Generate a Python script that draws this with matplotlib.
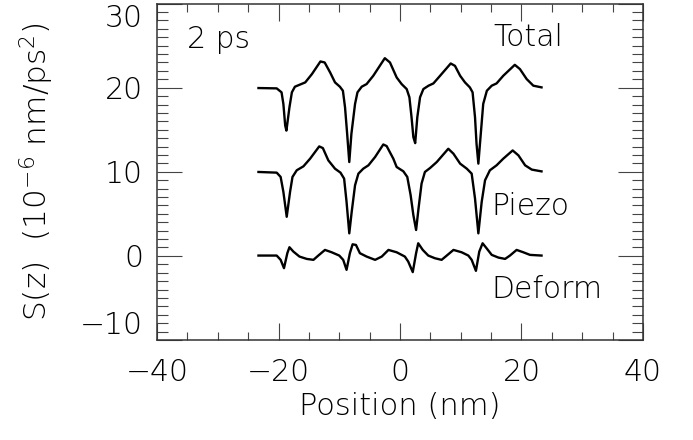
import matplotlib
matplotlib.use('Agg')
import matplotlib.pyplot as plt
from matplotlib.ticker import MultipleLocator

# values (nm, 10^-6 nm/ps^2)
total_x = [-23.3, -20.3, -19.5, -19.2, -18.9, -18.7, -18.2, -17.8, -17.3, -16.5, -15.6, -14.5,
           -13.1, -12.4, -11.5, -10.7, -9.9, -9.4, -9.05, -8.7, -8.35, -8.0, -7.4, -7.0, -6.3,
           -5.5, -4.4, -2.5, -1.65, -0.55, 0.27, 1.1, 1.55, 1.9, 2.2, 2.5, 2.85, 3.3, 3.85,
           4.7, 5.5, 6.6, 8.35, 9.05, 9.9, 10.7, 11.5, 11.95, 12.35, 12.6, 12.9, 13.3, 13.7,
           14.3, 15.1, 15.9, 17.0, 18.9, 19.75, 20.85, 21.95, 23.3]
total_y = [19.96, 19.92, 19.45, 18.07, 15.5, 14.9, 17.67, 19.45, 20.12, 20.36, 20.63, 21.62,
           23.12, 23.0, 21.81, 20.63, 20.12, 19.64, 17.67, 14.52, 11.16, 14.52, 18.07, 19.45, 20.12,
           20.43, 21.42, 23.51, 23.0, 21.22, 20.43, 19.84, 18.86, 16.49, 14.12, 13.41, 16.49, 18.86, 19.84,
           20.24, 20.51, 21.42, 22.88, 22.6, 21.42, 20.63, 20.04, 19.45, 16.49, 13.33, 10.97, 14.52, 18.07,
           19.64, 20.24, 20.51, 21.42, 22.72, 22.21, 21.03, 20.24, 20.04]

piezo_x = [-23.3, -20.3, -19.65, -19.2, -18.65, -18.1, -17.7, -17.0, -15.9, -14.8, -13.3, -12.7,
           -11.8, -10.7, -9.8, -9.2, -8.8, -8.35, -7.95, -7.4, -6.85, -6.05, -5.2, -4.1, -2.75,
           -2.2, -1.1, -0.55, 0.55, 1.2, 1.75, 2.2, 2.65, 3.05, 3.55, 4.1, 4.95, 6.05, 7.95,
           8.8, 9.9, 11.0, 11.8, 12.35, 12.9, 13.45, 14.0, 14.8, 15.9, 17.0, 18.55, 19.5,
           20.6, 21.7, 23.3]
piezo_y = [9.98, 9.9, 9.39, 7.61, 4.65, 7.61, 9.39, 10.18, 10.65, 11.56, 13.02, 12.82,
           11.36, 10.37, 9.9, 9.19, 6.43, 2.68, 5.25, 8.4, 9.78, 10.37, 10.77, 11.76, 13.25,
           13.06, 11.56, 10.57, 10.06, 9.39, 7.22, 4.85, 3.08, 5.64, 8.6, 9.98, 10.45, 11.16, 12.74,
           12.15, 10.97, 10.37, 9.78, 6.82, 2.68, 6.43, 8.99, 10.18, 10.77, 11.56, 12.54, 11.95,
           10.77, 10.26, 10.05]

deform_x = [-23.3, -20.3, -19.65, -19.1, -18.55, -18.2, -17.55, -16.55, -15.35, -14.25, -13.45,
            -12.35, -11.25, -10.0, -9.35, -8.8, -8.25, -7.8, -7.25, -6.6, -5.5, -4.1, -3.0,
            -1.9, -0.55, 0.8, 1.35, 2.1, 2.65, 3.0, 3.75, 4.65, 5.75, 6.85, 7.7, 8.8, 10.15,
            11.25, 11.8, 12.5, 13.05, 13.6, 14.25, 15.1, 16.2, 17.3, 18.1, 19.2, 20.3, 21.4, 23.3]
deform_y = [0.04, 0.04, -0.47, -1.46, 0.32, 1.03, 0.51, -0.08, -0.36, -0.47, 0.04,
            0.71, 0.43, 0.04, -0.47, -1.66, 0.32, 1.38, 1.3, 0.32, -0.08, -0.47, -0.08,
            0.71, 0.43, -0.08, -0.67, -1.93, 0.32, 1.5, 0.71, 0.04, -0.28, -0.47, 0.04, 0.71, 0.43,
            0.04, -0.47, -1.78, 0.51, 1.5, 0.91, 0.12, -0.2, -0.36, 0.04, 0.71, 0.43, 0.12, 0.04]

labels = ['Total', 'Piezo', 'Deform']

plt.rcParams['font.family'] = ['DejaVu Sans']
plt.rcParams['font.weight'] = 'light'
plt.rcParams['axes.labelweight'] = 'light'
plt.rcParams['font.size'] = 21.5
plt.rcParams['mathtext.fontset'] = 'custom'
plt.rcParams['mathtext.rm'] = 'DejaVu Sans:light'
plt.rcParams['mathtext.it'] = 'DejaVu Sans:light'
plt.rcParams['mathtext.default'] = 'rm'

fig = plt.figure(figsize=(6.93, 4.4), dpi=100)
ax = fig.add_axes([0.2266, 0.2273, 0.7012, 0.7645])

for xs, ys in [(total_x, total_y), (piezo_x, piezo_y), (deform_x, deform_y)]:
    ax.plot(xs, ys, color='black', lw=1.7, solid_joinstyle='round')

ax.set_xlim(-40, 40)
ax.set_ylim(-10, 30)
ax.xaxis.set_major_locator(MultipleLocator(20))
ax.xaxis.set_minor_locator(MultipleLocator(5))
ax.yaxis.set_major_locator(MultipleLocator(10))
ax.yaxis.set_minor_locator(MultipleLocator(1))
ax.tick_params(which='both', direction='in', top=True, right=True, color='#444', width=0.8)
ax.tick_params(axis='x', which='major', length=12, pad=13)
ax.tick_params(axis='x', which='minor', length=6)
ax.tick_params(axis='y', which='major', length=18, pad=10)
ax.tick_params(axis='y', which='minor', length=8)
for s in ax.spines.values():
    s.set_color('#333')
    s.set_linewidth(1.1)

ax.set_xlabel('Position (nm)', fontsize=22)
ax.xaxis.set_label_coords(0.5, -0.155)
ax.set_ylabel(r'S(z)  (10$^{-6}$ nm/ps$^2$)', fontsize=22.5)
ax.yaxis.set_label_coords(-0.208, 0.5)

fig.canvas.draw()
for t in ax.get_yticklabels():
    v = t.get_position()[1]
    if v >= 30:
        t.set_verticalalignment('top')
    elif v <= -10:
        t.set_verticalalignment('bottom')

ax.text(-35.1, 24.7, '2 ps')
ax.text(15.3, 25.0, labels[0])
ax.text(15.1, 4.85, labels[1])
ax.text(15.1, -4.97, labels[2])

fig.savefig('out.png', dpi=100)
